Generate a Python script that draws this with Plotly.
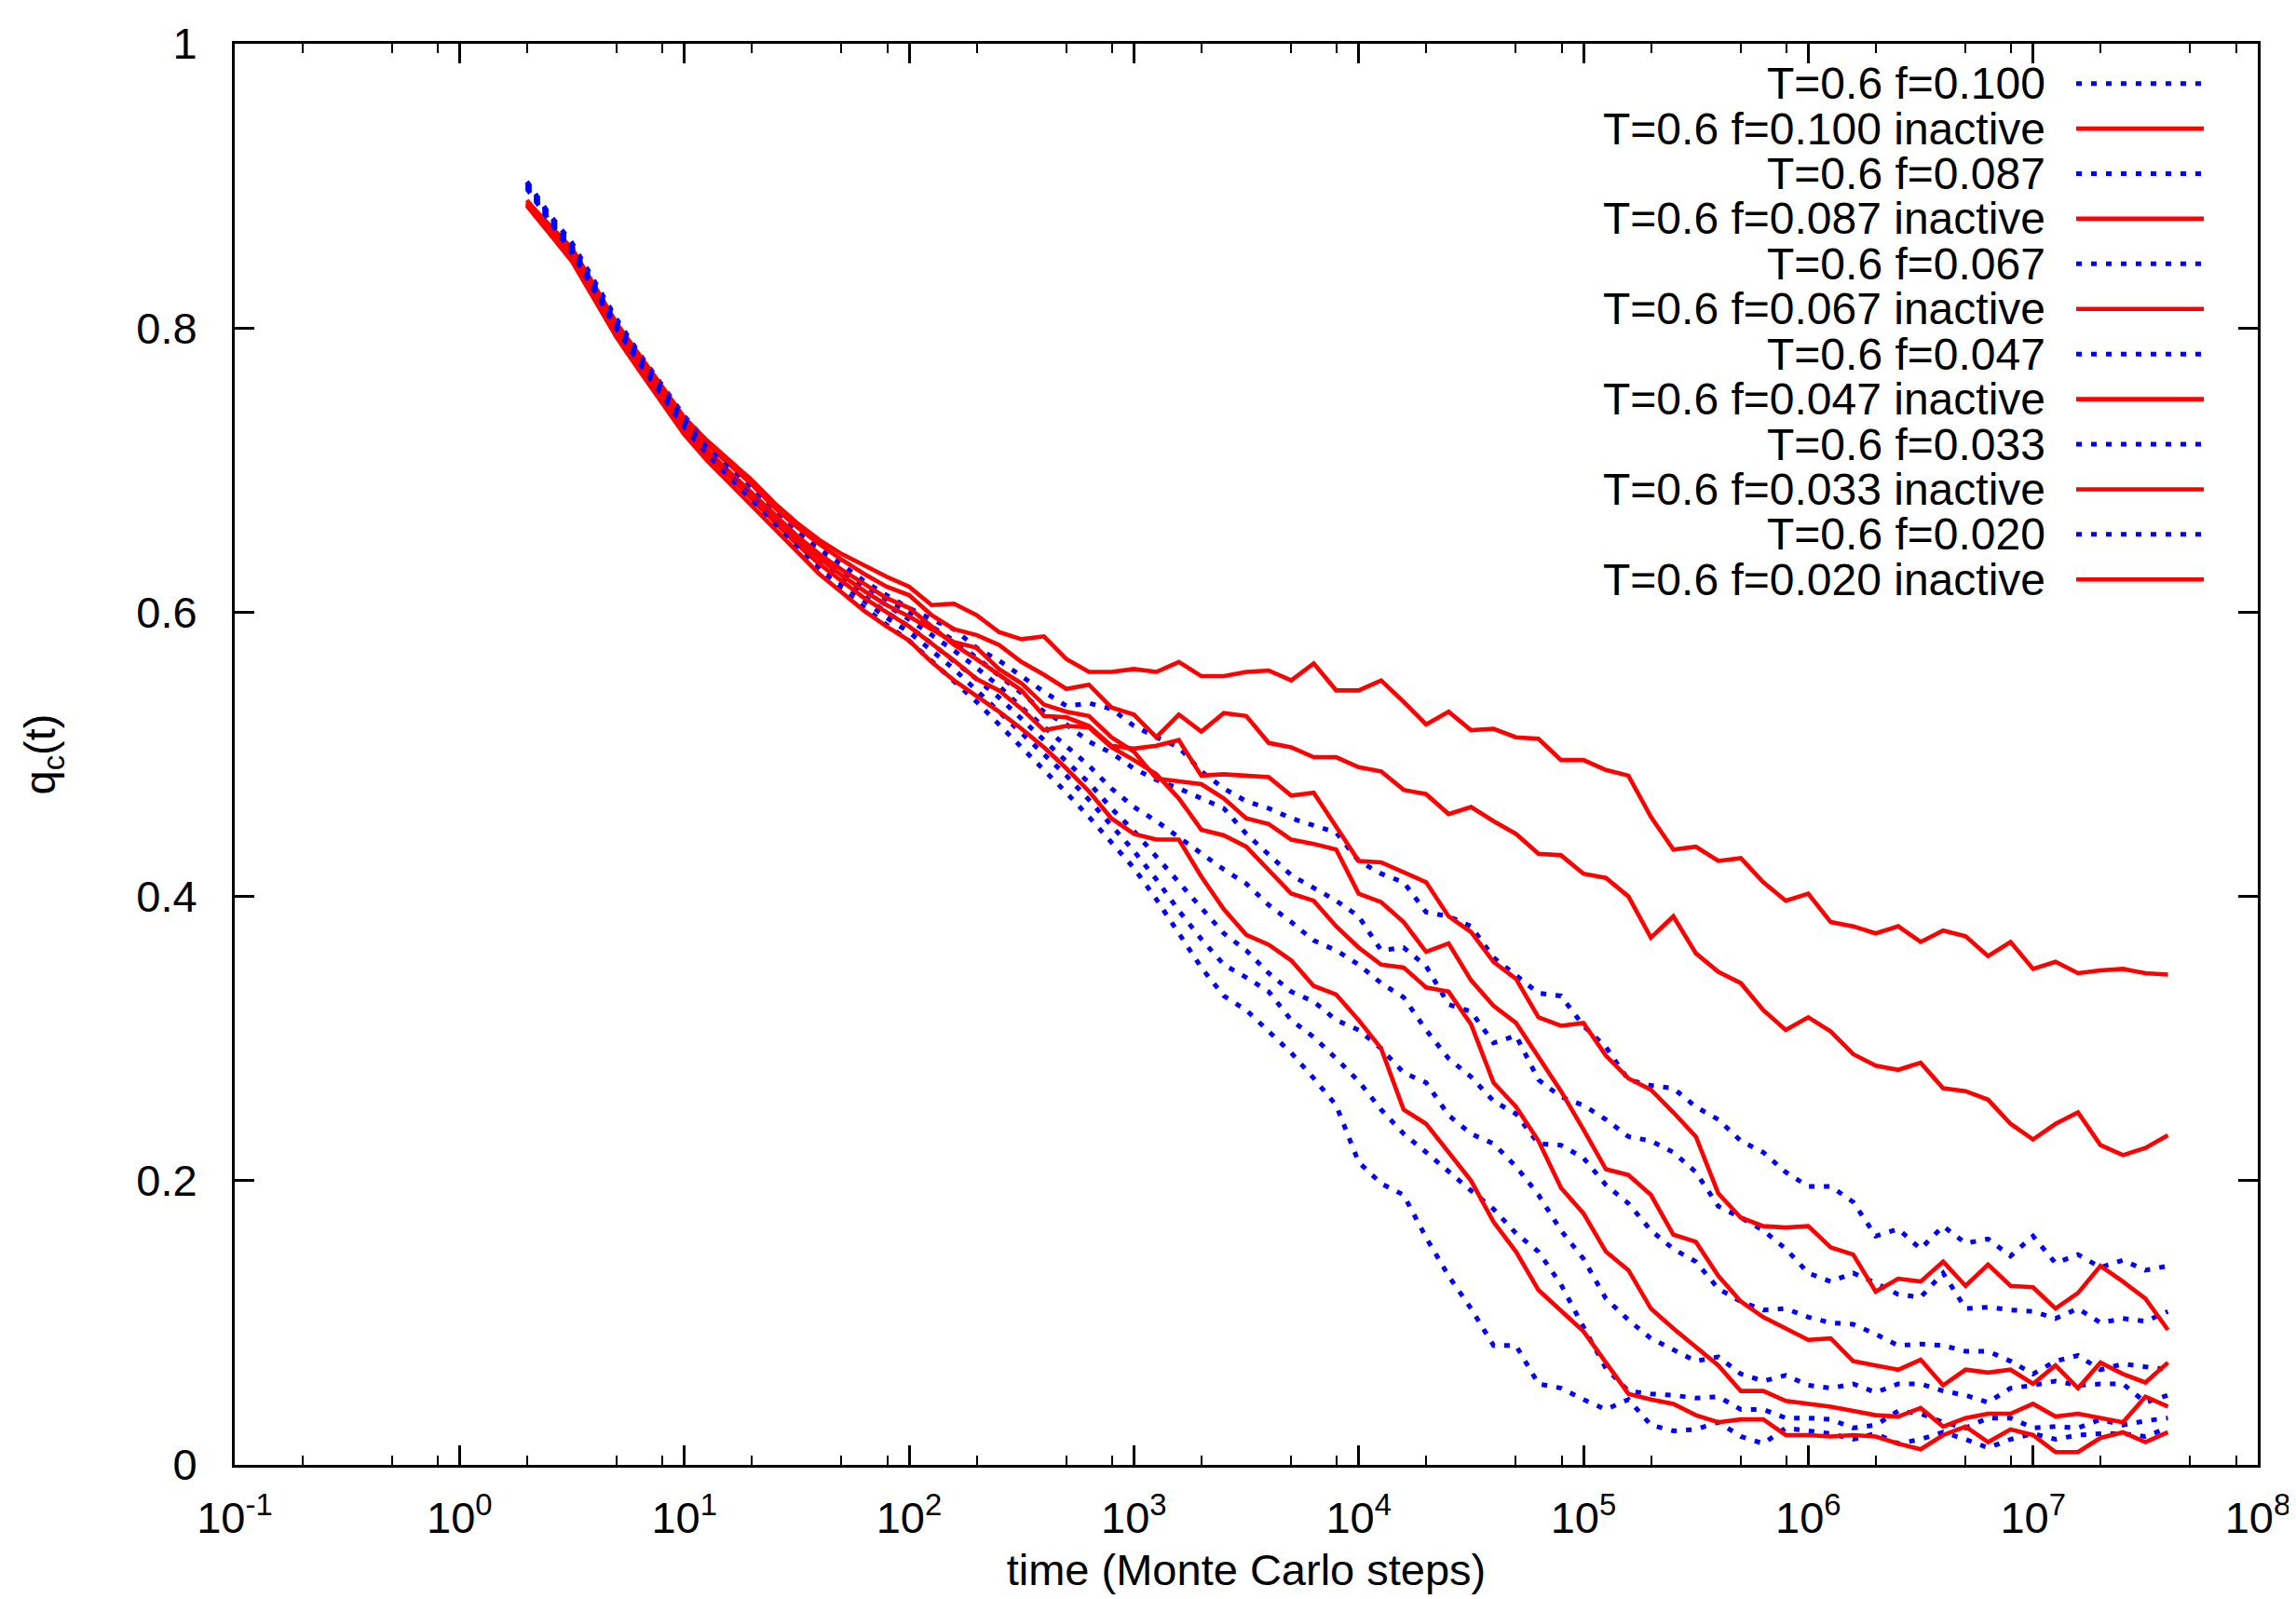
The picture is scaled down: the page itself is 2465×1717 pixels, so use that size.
import numpy as np
import plotly.graph_objects as go

# sampling times (Monte Carlo steps), log-spaced, 10 points per decade
TIMES = np.logspace(0.3, 7.6, 74)

# q_c(t), blue dotted = all particles, red solid = inactive particles
Q_F100 = [0.903, 0.880, 0.860, 0.833, 0.806, 0.782, 0.760, 0.738, 0.720, 0.705, 0.690, 0.673, 0.658, 0.645, 0.633, 0.622, 0.612, 0.603,
          0.595, 0.588, 0.575, 0.566, 0.555, 0.544, 0.534, 0.536, 0.532,
          0.520, 0.512, 0.505, 0.488, 0.476, 0.467, 0.462, 0.455, 0.450, 0.445,
          0.425, 0.416, 0.410, 0.389, 0.386, 0.379, 0.357, 0.344, 0.332, 0.330,
          0.309, 0.294, 0.271, 0.267, 0.265, 0.252, 0.243, 0.228, 0.220, 0.206,
          0.196, 0.196, 0.185, 0.161, 0.166, 0.152, 0.168, 0.156, 0.159, 0.147,
          0.161, 0.142, 0.148, 0.139, 0.144, 0.137, 0.140]
Q_F100_IN = [0.889, 0.872, 0.856, 0.830, 0.803, 0.781, 0.759, 0.737, 0.721, 0.707, 0.693, 0.677, 0.663, 0.651, 0.641, 0.633, 0.625, 0.618,
             0.605, 0.606, 0.598, 0.586, 0.581, 0.583, 0.567, 0.558, 0.558,
             0.560, 0.558, 0.565, 0.555, 0.555, 0.558, 0.559, 0.552, 0.564, 0.545,
             0.545, 0.552, 0.537, 0.521, 0.530, 0.517, 0.518, 0.512, 0.511, 0.496,
             0.496, 0.489, 0.485, 0.456, 0.433, 0.435, 0.425, 0.427, 0.410, 0.397,
             0.402, 0.382, 0.379, 0.374, 0.379, 0.368, 0.376, 0.372, 0.358, 0.368,
             0.349, 0.354, 0.346, 0.348, 0.349, 0.346, 0.345]
Q_F087 = [0.902, 0.879, 0.858, 0.831, 0.804, 0.780, 0.758, 0.736, 0.718, 0.703, 0.688, 0.671, 0.656, 0.642, 0.630, 0.619, 0.609, 0.600,
          0.590, 0.580, 0.568, 0.556, 0.543, 0.530, 0.521, 0.509, 0.501,
          0.490, 0.482, 0.476, 0.469, 0.462, 0.444, 0.429, 0.415, 0.406, 0.397,
          0.386, 0.362, 0.364, 0.351, 0.324, 0.319, 0.297, 0.302, 0.271, 0.259,
          0.253, 0.243, 0.231, 0.228, 0.220, 0.206, 0.182, 0.174, 0.165, 0.152,
          0.135, 0.129, 0.135, 0.128, 0.120, 0.118, 0.135, 0.110, 0.111, 0.109,
          0.108, 0.103, 0.110, 0.100, 0.103, 0.101, 0.108]
Q_F087_IN = [0.887, 0.870, 0.853, 0.828, 0.800, 0.778, 0.756, 0.734, 0.718, 0.704, 0.690, 0.674, 0.660, 0.648, 0.637, 0.627, 0.618, 0.612,
             0.598, 0.588, 0.584, 0.577, 0.565, 0.556, 0.546, 0.549, 0.533,
             0.528, 0.512, 0.528, 0.516, 0.529, 0.527, 0.508, 0.505, 0.498, 0.498,
             0.491, 0.488, 0.475, 0.472, 0.458, 0.463, 0.453, 0.444, 0.430, 0.429,
             0.416, 0.413, 0.400, 0.371, 0.386, 0.360, 0.347, 0.339, 0.320, 0.306,
             0.315, 0.305, 0.289, 0.281, 0.278, 0.283, 0.265, 0.263, 0.257, 0.240,
             0.229, 0.240, 0.248, 0.225, 0.218, 0.223, 0.232]
Q_F067 = [0.901, 0.878, 0.857, 0.830, 0.802, 0.778, 0.756, 0.734, 0.716, 0.701, 0.686, 0.669, 0.653, 0.639, 0.627, 0.615, 0.605, 0.595,
          0.584, 0.573, 0.561, 0.548, 0.533, 0.519, 0.505, 0.492, 0.476,
          0.463, 0.453, 0.442, 0.430, 0.419, 0.409, 0.394, 0.382, 0.369, 0.362,
          0.352, 0.339, 0.329, 0.306, 0.286, 0.273, 0.256, 0.247, 0.226, 0.225,
          0.216, 0.197, 0.184, 0.165, 0.152, 0.143, 0.124, 0.115, 0.109, 0.110,
          0.104, 0.100, 0.099, 0.092, 0.084, 0.085, 0.084, 0.080, 0.080, 0.073,
          0.064, 0.073, 0.077, 0.067, 0.071, 0.069, 0.067]
Q_F067_IN = [0.890, 0.871, 0.852, 0.826, 0.799, 0.776, 0.753, 0.731, 0.714, 0.699, 0.685, 0.669, 0.654, 0.641, 0.630, 0.620, 0.610, 0.603,
             0.590, 0.577, 0.567, 0.556, 0.545, 0.527, 0.526, 0.520, 0.506,
             0.504, 0.506, 0.510, 0.485, 0.486, 0.485, 0.484, 0.471, 0.473, 0.449,
             0.425, 0.424, 0.417, 0.410, 0.386, 0.375, 0.354, 0.342, 0.315, 0.309,
             0.311, 0.288, 0.272, 0.264, 0.248, 0.231, 0.191, 0.174, 0.168, 0.167,
             0.168, 0.153, 0.148, 0.122, 0.131, 0.129, 0.143, 0.126, 0.141, 0.126,
             0.125, 0.110, 0.121, 0.140, 0.129, 0.117, 0.095]
Q_F047 = [0.900, 0.877, 0.856, 0.829, 0.801, 0.777, 0.754, 0.732, 0.714, 0.699, 0.683, 0.666, 0.650, 0.636, 0.623, 0.611, 0.600, 0.590,
          0.578, 0.566, 0.553, 0.540, 0.525, 0.510, 0.495, 0.480, 0.462,
          0.446, 0.428, 0.410, 0.392, 0.374, 0.362, 0.346, 0.333, 0.326, 0.313,
          0.306, 0.293, 0.276, 0.269, 0.246, 0.233, 0.226, 0.210, 0.190, 0.165,
          0.145, 0.117, 0.102, 0.089, 0.081, 0.073, 0.076, 0.064, 0.059, 0.063,
          0.056, 0.054, 0.057, 0.051, 0.057, 0.057, 0.052, 0.049, 0.044, 0.054,
          0.056, 0.059, 0.056, 0.057, 0.057, 0.044, 0.049]
Q_F047_IN = [0.888, 0.869, 0.851, 0.824, 0.797, 0.774, 0.752, 0.730, 0.713, 0.698, 0.683, 0.666, 0.651, 0.638, 0.626, 0.615, 0.605, 0.597,
             0.588, 0.579, 0.575, 0.560, 0.550, 0.535, 0.530, 0.527, 0.512,
             0.502, 0.483, 0.481, 0.479, 0.469, 0.455, 0.451, 0.440, 0.437, 0.433,
             0.402, 0.396, 0.382, 0.361, 0.367, 0.341, 0.323, 0.311, 0.287, 0.263,
             0.236, 0.208, 0.204, 0.190, 0.162, 0.157, 0.133, 0.115, 0.104, 0.096,
             0.088, 0.089, 0.073, 0.070, 0.067, 0.074, 0.056, 0.067, 0.065, 0.067,
             0.057, 0.070, 0.054, 0.072, 0.064, 0.058, 0.072]
Q_F033 = [0.899, 0.876, 0.855, 0.828, 0.800, 0.776, 0.753, 0.730, 0.712, 0.697, 0.681, 0.664, 0.648, 0.633, 0.620, 0.608, 0.596, 0.586,
          0.573, 0.560, 0.545, 0.530, 0.515, 0.500, 0.485, 0.468, 0.450,
          0.432, 0.412, 0.390, 0.370, 0.352, 0.343, 0.333, 0.313, 0.301, 0.286,
          0.270, 0.250, 0.233, 0.220, 0.206, 0.193, 0.180, 0.163, 0.150, 0.127,
          0.097, 0.068, 0.052, 0.050, 0.049, 0.047, 0.048, 0.039, 0.039, 0.033,
          0.033, 0.032, 0.026, 0.028, 0.038, 0.036, 0.030, 0.026, 0.033, 0.033,
          0.026, 0.027, 0.026, 0.032, 0.028, 0.031, 0.033]
Q_F033_IN = [0.887, 0.868, 0.849, 0.822, 0.795, 0.772, 0.750, 0.728, 0.711, 0.695, 0.680, 0.663, 0.648, 0.634, 0.622, 0.610, 0.600, 0.590,
             0.578, 0.566, 0.553, 0.545, 0.532, 0.517, 0.520, 0.519, 0.505,
             0.496, 0.486, 0.469, 0.447, 0.443, 0.435, 0.418, 0.402, 0.397, 0.379,
             0.364, 0.352, 0.350, 0.336, 0.333, 0.310, 0.269, 0.252, 0.228, 0.195,
             0.177, 0.150, 0.137, 0.110, 0.096, 0.083, 0.070, 0.052, 0.052, 0.045,
             0.043, 0.041, 0.038, 0.035, 0.034, 0.040, 0.027, 0.033, 0.036, 0.036,
             0.043, 0.034, 0.036, 0.033, 0.030, 0.048, 0.041]
Q_F020 = [0.898, 0.875, 0.853, 0.826, 0.798, 0.774, 0.751, 0.728, 0.710, 0.694, 0.678, 0.661, 0.645, 0.630, 0.616, 0.603, 0.591, 0.580,
          0.566, 0.552, 0.537, 0.521, 0.505, 0.490, 0.473, 0.456, 0.438,
          0.420, 0.398, 0.374, 0.350, 0.330, 0.320, 0.305, 0.290, 0.272, 0.253,
          0.213, 0.198, 0.190, 0.160, 0.133, 0.110, 0.084, 0.084, 0.057, 0.054,
          0.046, 0.039, 0.046, 0.028, 0.024, 0.025, 0.030, 0.020, 0.015, 0.026,
          0.024, 0.022, 0.018, 0.022, 0.015, 0.018, 0.023, 0.018, 0.012, 0.018,
          0.022, 0.018, 0.021, 0.022, 0.022, 0.020, 0.026]
Q_F020_IN = [0.886, 0.866, 0.847, 0.820, 0.793, 0.770, 0.747, 0.725, 0.707, 0.691, 0.675, 0.658, 0.642, 0.627, 0.614, 0.601, 0.590, 0.580,
             0.565, 0.552, 0.541, 0.530, 0.518, 0.505, 0.490, 0.474, 0.455,
             0.444, 0.440, 0.440, 0.414, 0.391, 0.373, 0.366, 0.355, 0.337, 0.331,
             0.313, 0.293, 0.250, 0.240, 0.220, 0.200, 0.171, 0.150, 0.123, 0.108,
             0.094, 0.072, 0.050, 0.046, 0.043, 0.035, 0.030, 0.032, 0.032, 0.021,
             0.021, 0.020, 0.021, 0.020, 0.015, 0.011, 0.021, 0.027, 0.016, 0.025,
             0.021, 0.009, 0.009, 0.019, 0.023, 0.016, 0.023]

LABELS = ["T=0.6 f=0.100", "T=0.6 f=0.100 inactive",
          "T=0.6 f=0.087", "T=0.6 f=0.087 inactive",
          "T=0.6 f=0.067", "T=0.6 f=0.067 inactive",
          "T=0.6 f=0.047", "T=0.6 f=0.047 inactive",
          "T=0.6 f=0.033", "T=0.6 f=0.033 inactive",
          "T=0.6 f=0.020", "T=0.6 f=0.020 inactive"]
SERIES = [Q_F100, Q_F100_IN, Q_F087, Q_F087_IN, Q_F067, Q_F067_IN,
          Q_F047, Q_F047_IN, Q_F033, Q_F033_IN, Q_F020, Q_F020_IN]

X_TICKS = [1e-1, 1, 1e1, 1e2, 1e3, 1e4, 1e5, 1e6, 1e7, 1e8]
X_TICKTEXT = ["10<sup>-1</sup>", "10<sup>0</sup>", "10<sup>1</sup>", "10<sup>2</sup>", "10<sup>3</sup>",
              "10<sup>4</sup>", "10<sup>5</sup>", "10<sup>6</sup>", "10<sup>7</sup>", "10<sup>8</sup>"]
X_MINOR = [m * 10.0 ** e for e in range(-1, 8) for m in (2, 5, 8)]

FONT = "Liberation Sans, Arial, sans-serif"
BLUE_DOT = dict(color="#0000ff", width=5, dash="6px,10px")
RED_LINE = dict(color="#ff0000", width=4.6)

fig = go.Figure()
for i, (name, q) in enumerate(zip(LABELS, SERIES)):
    assert len(q) == len(TIMES)
    style = RED_LINE if i % 2 else BLUE_DOT
    fig.add_trace(go.Scatter(x=TIMES, y=q, name=name, mode="lines", line=style, showlegend=False))

# gnuplot style key: right aligned text with the line sample on its right
W, H = 2465, 1717
L, R, T, B = 244, 49, 27, 152
pw, ph = W - L - R, H - T - B
for i, name in enumerate(LABELS):
    ypx = 70 + 48.8 * i
    yp = 1 - (ypx - T) / ph
    fig.add_annotation(x=(2190 - L) / pw, y=yp, xref="paper", yref="paper", text=name,
                       showarrow=False, xanchor="right", yanchor="middle",
                       font=dict(family=FONT, size=48, color="black"))
    style = RED_LINE if i % 2 else BLUE_DOT
    fig.add_shape(type="line", xref="paper", yref="paper",
                  x0=(2221 - L) / pw, x1=(2358 - L) / pw, y0=yp, y1=yp, line=style)

axis_common = dict(showline=True, linecolor="black", linewidth=3, mirror="allticks",
                   ticks="inside", ticklen=21, tickwidth=2.5, tickcolor="black",
                   showgrid=False, zeroline=False, ticklabeloverflow="allow",
                   tickfont=dict(family=FONT, size=47, color="black"))

fig.update_layout(
    width=W, height=H, autosize=False,
    margin=dict(l=L, r=R, t=T, b=B),
    plot_bgcolor="white", paper_bgcolor="white",
    font=dict(family=FONT, size=47, color="black"),
    showlegend=False,
    xaxis=dict(type="log", range=[-1, 8], tickmode="array", tickvals=X_TICKS, ticktext=X_TICKTEXT,
               ticklabelstandoff=14,
               minor=dict(tickmode="array", tickvals=X_MINOR, ticks="inside", ticklen=10,
                          tickwidth=2, tickcolor="black"),
               title=dict(text="time (Monte Carlo steps)", standoff=14,
                          font=dict(family=FONT, size=47, color="black")),
               **axis_common),
    yaxis=dict(range=[0, 1], tickmode="array", tickvals=[0, 0.2, 0.4, 0.6, 0.8, 1],
               ticktext=["0", "0.2", "0.4", "0.6", "0.8", "1"], ticklabelstandoff=28,
               title=dict(text="q<sub>c</sub>(t)", standoff=72,
                          font=dict(family=FONT, size=47, color="black")),
               **axis_common),
)

fig.write_html("out.html")
